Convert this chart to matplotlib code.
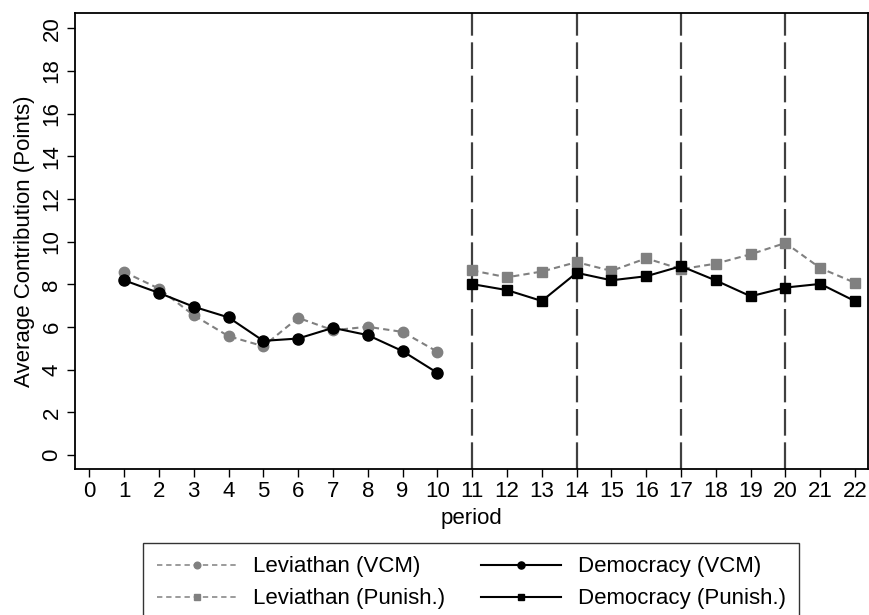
import numpy as np
import matplotlib
matplotlib.use("Agg")
from matplotlib import pyplot as plt

plt.rcParams['font.family'] = ['Liberation Sans', 'DejaVu Sans']

periods_vcm = np.arange(1, 11)
periods_pun = np.arange(11, 23)

lev_vcm = [8.58, 7.80, 6.55, 5.57, 5.10, 6.43, 5.85, 6.01, 5.77, 4.84]
dem_vcm = [8.19, 7.60, 6.95, 6.45, 5.35, 5.46, 5.96, 5.62, 4.87, 3.85]
lev_pun = [8.65, 8.33, 8.60, 9.04, 8.63, 9.22, 8.71, 8.97, 9.41, 9.94, 8.76, 8.07]
dem_pun = [8.01, 7.73, 7.22, 8.54, 8.19, 8.38, 8.85, 8.18, 7.44, 7.85, 8.02, 7.21]
breaks = [11, 14, 17, 20]

gray = '#808080'

fig = plt.figure(figsize=(8.7, 6.15), dpi=100)
ax = fig.add_axes([0.0862, 0.2374, 0.9115, 0.7415])

for b in breaks:
    ax.axvline(b, color='#404040', lw=1.6, linestyle=(0, (12, 3)), zorder=1)

l1, = ax.plot(periods_vcm, lev_vcm, color=gray, linestyle=(0, (3, 2)), lw=1.5,
              marker='o', ms=7.5, label='Leviathan (VCM)', zorder=2)
l3, = ax.plot(periods_vcm, dem_vcm, color='black', lw=1.5,
              marker='o', ms=8, label='Democracy (VCM)', zorder=3)
l2, = ax.plot(periods_pun, lev_pun, color=gray, linestyle=(0, (3, 2)), lw=1.5,
              marker='s', ms=7, label='Leviathan (Punish.)', zorder=2)
l4, = ax.plot(periods_pun, dem_pun, color='black', lw=1.5,
              marker='s', ms=7.5, label='Democracy (Punish.)', zorder=3)

ax.set_xlim(-0.41, 22.37)
ax.set_ylim(-0.656, 20.72)
ax.set_xticks(range(0, 23))
ax.set_yticks(range(0, 21, 2))
ax.tick_params(axis='both', labelsize=16, direction='out', length=5.5, width=1, pad=3.5)
plt.setp(ax.get_yticklabels(), rotation=90, va='center')
for s in ax.spines.values():
    s.set_linewidth(1.3)
ax.set_xlabel('period', fontsize=16, labelpad=4)
ax.set_ylabel('Average Contribution (Points)', fontsize=16, labelpad=5)

leg = fig.legend(handles=[l1, l2, l3, l4], ncol=2, loc='upper center',
                 bbox_to_anchor=(0.5417, 0.117), fontsize=16, frameon=True,
                 fancybox=False, edgecolor='black', handlelength=3.6,
                 markerscale=0.64, columnspacing=1.6, borderpad=0.6,
                 labelspacing=0.5, handletextpad=0.75, borderaxespad=0)
leg.get_frame().set_linewidth(1.0)
for h in leg.legend_handles[:2]:
    h.set_linestyle((0, (3.5, 2.5)))
    h.set_linewidth(1.1)

fig.savefig('out.png', dpi=100)
